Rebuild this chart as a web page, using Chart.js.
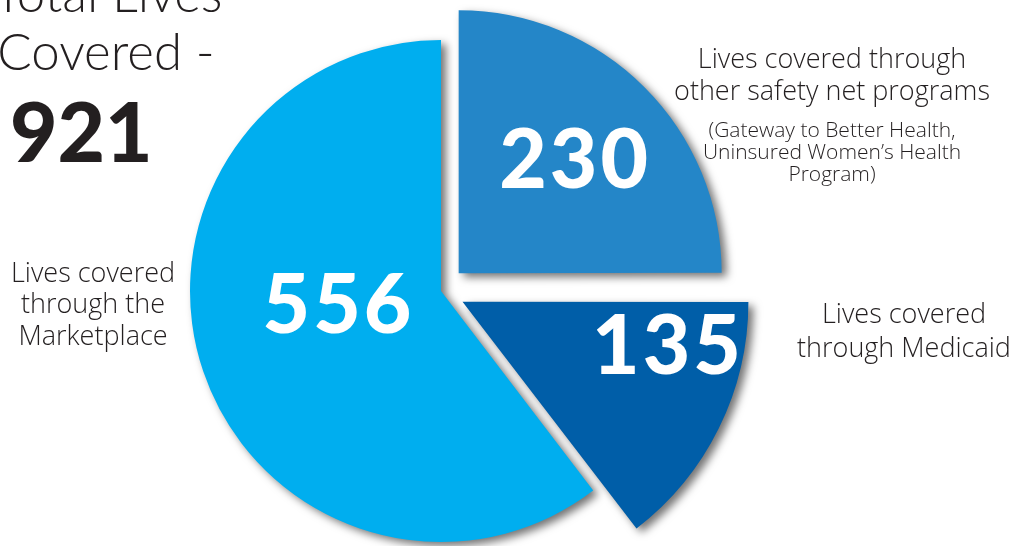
<!DOCTYPE html>
<html>
	<head>
		<meta name="viewport" content="width=device-width, initial-scale=1">
		<style>
			html, body { margin: 0; padding: 0; background: #fff; }
			#wrap { width: 1019px; height: 546px; }
		</style>
	</head>
	<body>
		<div id="wrap"><canvas id="myChart"></canvas></div>
		<script src="https://cdn.jsdelivr.net/npm/chart.js@4/dist/chart.umd.min.js"></script>
		<script>
			const categories = ['Other safety net programs', 'Medicaid', 'Marketplace'];
			const lives = [230, 135, 556];
			const totalLives = 921;
			const sliceColors = ['#2486c8', '#005ea8', '#00aeef'];

			const textColor = '#231f20';
			const thin = '300 ';
			const sans = '"Open Sans", Lato, sans-serif';

			// drop shadow under the slices
			const shadow = {
				id: 'shadow',
				beforeDatasetsDraw(chart) {
					const c = chart.ctx;
					c.save();
					c.shadowColor = 'rgba(0,0,0,0.55)';
					c.shadowBlur = 9;
					c.shadowOffsetX = 5;
					c.shadowOffsetY = 4;
				},
				afterDatasetsDraw(chart) {
					chart.ctx.restore();
				}
			};

			// exploded slices are drawn a bit bigger, like the original graphic
			const grow = {
				id: 'grow',
				afterDatasetsUpdate(chart, args, opts) {
					chart.getDatasetMeta(0).data.forEach((arc, i) => {
						arc.outerRadius += (opts.extra[i] || 0);
					});
				}
			};

			const labels = {
				id: 'labels',
				afterDraw(chart, args, opts) {
					const c = chart.ctx;
					c.save();
					c.textAlign = 'center';
					c.textBaseline = 'alphabetic';
					c.fillStyle = '#fff';
					c.font = '900 82px Lato, "DejaVu Sans", sans-serif';
					c.letterSpacing = '3px';
					chart.getDatasetMeta(0).data.forEach((arc, i) => {
						const mid = (arc.startAngle + arc.endAngle) / 2;
						const off = (arc.options.offset || 0) / 4;
						const cx = arc.x + Math.cos(mid) * off;
						const cy = arc.y + Math.sin(mid) * off;
						const a = mid + opts.turn[i];
						const r = arc.outerRadius * opts.pos[i];
						c.fillText(lives[i], cx + Math.cos(a) * r + 2, cy + Math.sin(a) * r + 29);
					});
					c.letterSpacing = '0px';

					c.fillStyle = textColor;
					c.font = thin + '51px Lato, sans-serif';
					c.fillText('Total Lives', 108, 12);
					c.fillText('Covered -', 106, 70);
					c.textAlign = 'left';
					c.font = '900 82px Lato, sans-serif';
					c.fillText(totalLives, 10, 162);

					c.textAlign = 'center';
					c.font = thin + '27px ' + sans;
					c.fillText('Lives covered through', 832, 68);
					c.fillText('other safety net programs', 832, 100);
					c.fillText('Lives covered', 904, 323);
					c.fillText('through Medicaid', 904, 357);
					c.fillText('Lives covered', 93, 282);
					c.fillText('through the', 93, 313);
					c.fillText('Marketplace', 93, 345);
					c.font = thin + '21px ' + sans;
					c.fillText('(Gateway to Better Health,', 832, 137);
					c.fillText('Uninsured Women\u2019s Health', 832, 159);
					c.fillText('Program)', 832, 181);
					c.restore();
				}
			};

			const ctx = document.getElementById('myChart');
			new Chart(ctx, {
				type: 'pie',
				data: {
					labels: categories,
					datasets: [{
						data: lives,
						backgroundColor: sliceColors,
						borderWidth: 0,
						offset: [100, 96, 0]
					}]
				},
				options: {
					responsive: true,
					maintainAspectRatio: false,
					animation: false,
					radius: 251,
					layout: { padding: { left: 0, right: 137, top: 36, bottom: 0 } },
					plugins: {
						legend: { display: false },
						tooltip: { enabled: false },
						grow: { extra: [12, 30, 0] },
						labels: { pos: [0.616, 0.74, 0.42], turn: [0, -0.25, 0.2] }
					}
				},
				plugins: [shadow, grow, labels]
			});
		</script>
	</body>
</html>
